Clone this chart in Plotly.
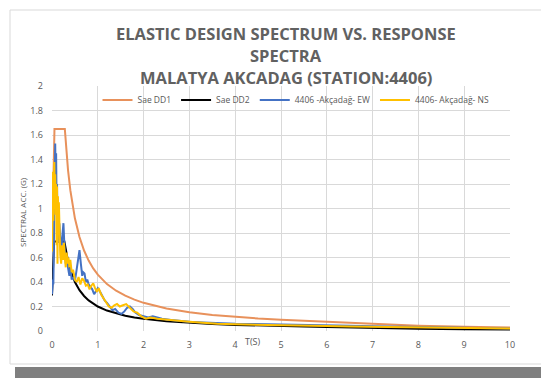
import plotly.graph_objects as go

# Design spectra
dd1_t = [0.0, 0.054, 0.28, 0.30, 0.35, 0.40, 0.45, 0.50, 0.60, 0.70, 0.80, 0.90, 1.00, 1.20, 1.40, 1.60, 1.80,
         2.00, 2.50, 3.00, 3.50, 4.00, 4.50, 5.00, 5.50, 6.00, 7.00, 8.00, 9.00, 10.0]
dd1_sa = [0.66, 1.65, 1.65, 1.533, 1.314, 1.15, 1.022, 0.92, 0.767, 0.657, 0.575, 0.511, 0.46, 0.383, 0.329,
          0.288, 0.256, 0.23, 0.184, 0.153, 0.131, 0.115, 0.102, 0.092, 0.084, 0.077, 0.056, 0.043, 0.034, 0.028]

dd2_t = [0.0, 0.045, 0.27, 0.30, 0.35, 0.40, 0.45, 0.50, 0.60, 0.70, 0.80, 0.90, 1.00, 1.20, 1.40, 1.60, 1.80,
         2.00, 2.50, 3.00, 3.50, 4.00, 4.50, 5.00, 5.50, 6.00, 7.00, 8.00, 9.00, 10.0]
dd2_sa = [0.29, 0.73, 0.73, 0.667, 0.571, 0.50, 0.444, 0.40, 0.333, 0.286, 0.25, 0.222, 0.20, 0.167, 0.143,
          0.125, 0.111, 0.10, 0.08, 0.067, 0.057, 0.05, 0.044, 0.04, 0.036, 0.033, 0.0245, 0.019, 0.015, 0.012]

# Response spectra
ew_t = [0.0, 0.02, 0.03, 0.04, 0.05, 0.06, 0.07, 0.08, 0.09, 0.10, 0.11, 0.12, 0.13, 0.14, 0.15, 0.16, 0.18,
        0.20, 0.22, 0.24, 0.25, 0.27, 0.30, 0.32, 0.35, 0.38, 0.40, 0.43, 0.46, 0.50, 0.53, 0.56, 0.60, 0.63,
        0.66, 0.68, 0.71, 0.74, 0.77, 0.80, 0.84, 0.88, 0.92, 0.96, 1.00, 1.05, 1.10, 1.15, 1.20, 1.26, 1.32,
        1.38, 1.45, 1.52, 1.58, 1.64, 1.70, 1.76, 1.82, 1.90, 2.0, 2.1, 2.2, 2.3, 2.4, 2.6, 2.8, 3.0, 3.3, 3.6,
        4.0, 4.4, 4.8, 5.2, 5.6, 6.0, 6.5, 7.0, 7.5, 8.0, 8.5, 9.0, 9.5, 10.0]
ew_sa = [0.30, 0.42, 0.38, 0.80, 1.30, 1.50, 1.53, 1.25, 1.45, 1.05, 1.20, 0.85, 0.95, 0.80, 0.72, 0.88, 0.70,
         0.62, 0.75, 0.86, 0.88, 0.70, 0.55, 0.58, 0.50, 0.45, 0.52, 0.42, 0.44, 0.41, 0.48, 0.55, 0.66, 0.55,
         0.45, 0.48, 0.47, 0.40, 0.42, 0.38, 0.36, 0.34, 0.30, 0.33, 0.35, 0.32, 0.28, 0.25, 0.23, 0.20, 0.17,
         0.18, 0.15, 0.14, 0.16, 0.19, 0.20, 0.18, 0.15, 0.13, 0.12, 0.11, 0.12, 0.11, 0.10, 0.09, 0.08, 0.075,
         0.07, 0.065, 0.06, 0.058, 0.056, 0.052, 0.05, 0.046, 0.042, 0.038, 0.034, 0.03, 0.027, 0.024, 0.022, 0.02]

ns_t = [0.0, 0.01, 0.02, 0.03, 0.04, 0.05, 0.06, 0.07, 0.08, 0.09, 0.10, 0.11, 0.12, 0.13, 0.14, 0.15, 0.16,
        0.17, 0.18, 0.20, 0.22, 0.24, 0.26, 0.28, 0.30, 0.32, 0.34, 0.36, 0.38, 0.40, 0.43, 0.46, 0.50, 0.54,
        0.58, 0.62, 0.66, 0.70, 0.74, 0.78, 0.82, 0.86, 0.90, 0.94, 0.98, 1.02, 1.07, 1.12, 1.18, 1.24, 1.30,
        1.36, 1.42, 1.48, 1.55, 1.62, 1.70, 1.78, 1.86, 1.95, 2.05, 2.15, 2.3, 2.5, 2.7, 3.0, 3.3, 3.6, 4.0,
        4.5, 5.0, 5.5, 6.0, 6.5, 7.0, 7.5, 8.0, 8.5, 9.0, 9.5, 10.0]
ns_sa = [0.65, 0.95, 1.30, 0.90, 1.25, 1.38, 1.10, 1.28, 0.95, 1.20, 0.70, 1.18, 0.55, 1.10, 0.85, 1.05, 0.75,
         0.90, 0.62, 0.55, 0.70, 0.58, 0.72, 0.60, 0.52, 0.64, 0.55, 0.60, 0.52, 0.58, 0.48, 0.50, 0.42, 0.40,
         0.44, 0.38, 0.43, 0.41, 0.37, 0.38, 0.34, 0.37, 0.39, 0.35, 0.32, 0.35, 0.30, 0.27, 0.23, 0.20, 0.19,
         0.21, 0.22, 0.20, 0.21, 0.22, 0.19, 0.16, 0.15, 0.12, 0.10, 0.11, 0.10, 0.09, 0.085, 0.075, 0.065, 0.06,
         0.055, 0.05, 0.045, 0.042, 0.04, 0.037, 0.034, 0.031, 0.028, 0.026, 0.024, 0.022, 0.021]

series_names = ["Sae DD1", "Sae DD2", "4406 -Akçadağ- EW", "4406- Akçadağ- NS"]
title_lines = ["ELASTIC DESIGN SPECTRUM VS. RESPONSE", "SPECTRA", "MALATYA AKCADAG (STATION:4406)"]
y_ticks = [0, 0.2, 0.4, 0.6, 0.8, 1, 1.2, 1.4, 1.6, 1.8, 2]
x_ticks = [0, 1, 2, 3, 4, 5, 6, 7, 8, 9, 10]

gray = "#595959"
fig = go.Figure()
fig.add_trace(go.Scatter(x=dd1_t, y=dd1_sa, mode="lines", name=series_names[0],
                         line=dict(color="#E8915B", width=2)))
fig.add_trace(go.Scatter(x=dd2_t, y=dd2_sa, mode="lines", name=series_names[1],
                         line=dict(color="#000000", width=2)))
fig.add_trace(go.Scatter(x=ew_t, y=ew_sa, mode="lines", name=series_names[2],
                         line=dict(color="#4472C4", width=2)))
fig.add_trace(go.Scatter(x=ns_t, y=ns_sa, mode="lines", name=series_names[3],
                         line=dict(color="#FFC000", width=2)))

W, H = 541, 378
L, R, T, B = 52, 31, 86, 47
pw, ph = W - L - R, H - T - B


def px(xp):
    return (xp - L) / pw


def py(yp):
    return (H - B - yp) / ph


annotations = []
for line, ypix in zip(title_lines, [33, 55, 77]):
    annotations.append(dict(text="<b>" + line + "</b>", x=px(286), y=py(ypix), xref="paper", yref="paper",
                            xanchor="center", yanchor="middle", showarrow=False,
                            font=dict(family="Open Sans", size=16.5, color="#616161")))
annotations.append(dict(text="SPECTRAL ACC. (G)", x=px(22), y=py(212), xref="paper", yref="paper",
                        textangle=-90, showarrow=False, xanchor="center", yanchor="middle",
                        font=dict(family="Open Sans", size=8, color=gray)))
annotations.append(dict(text="T(S)", x=px(253), y=py(341), xref="paper", yref="paper",
                        showarrow=False, xanchor="center", yanchor="middle",
                        font=dict(family="Open Sans", size=9, color=gray)))

shapes = [
    dict(type="rect", xref="paper", yref="paper", x0=px(10), x1=px(560), y0=py(364), y1=py(10),
         line=dict(color="#D9D9D9", width=1), fillcolor="rgba(0,0,0,0)", layer="below"),
    dict(type="rect", xref="paper", yref="paper", x0=px(15), x1=px(560), y0=py(380), y1=py(367),
         line=dict(width=0), fillcolor="#7F7F7F", layer="below"),
]

fig.update_layout(
    width=W, height=H,
    margin=dict(l=L, r=R, t=T, b=B, autoexpand=False),
    paper_bgcolor="white", plot_bgcolor="white",
    font=dict(family="Open Sans", size=9, color=gray),
    showlegend=True,
    legend=dict(orientation="h", x=px(296), y=py(100), xanchor="center", yanchor="middle",
                bgcolor="rgba(0,0,0,0)", font=dict(size=8.5, color=gray), itemwidth=30,
                tracegroupgap=0),
    annotations=annotations,
    shapes=shapes,
    xaxis=dict(range=[0, 10], tickvals=x_ticks, showgrid=True, gridcolor="#D9D9D9", gridwidth=1,
               zeroline=False, showline=False, ticks="", tickfont=dict(size=9, color=gray),
               ticklabelstandoff=7, fixedrange=True),
    yaxis=dict(range=[0, 2], tickvals=y_ticks, showgrid=True, gridcolor="#D9D9D9", gridwidth=1,
               zeroline=False, showline=False, ticks="", tickfont=dict(size=9, color=gray),
               ticklabelstandoff=8, fixedrange=True),
)

fig.write_html("out.html", config={"displayModeBar": False},
               post_script="document.body.style.margin='0';document.body.style.overflow='hidden';")
